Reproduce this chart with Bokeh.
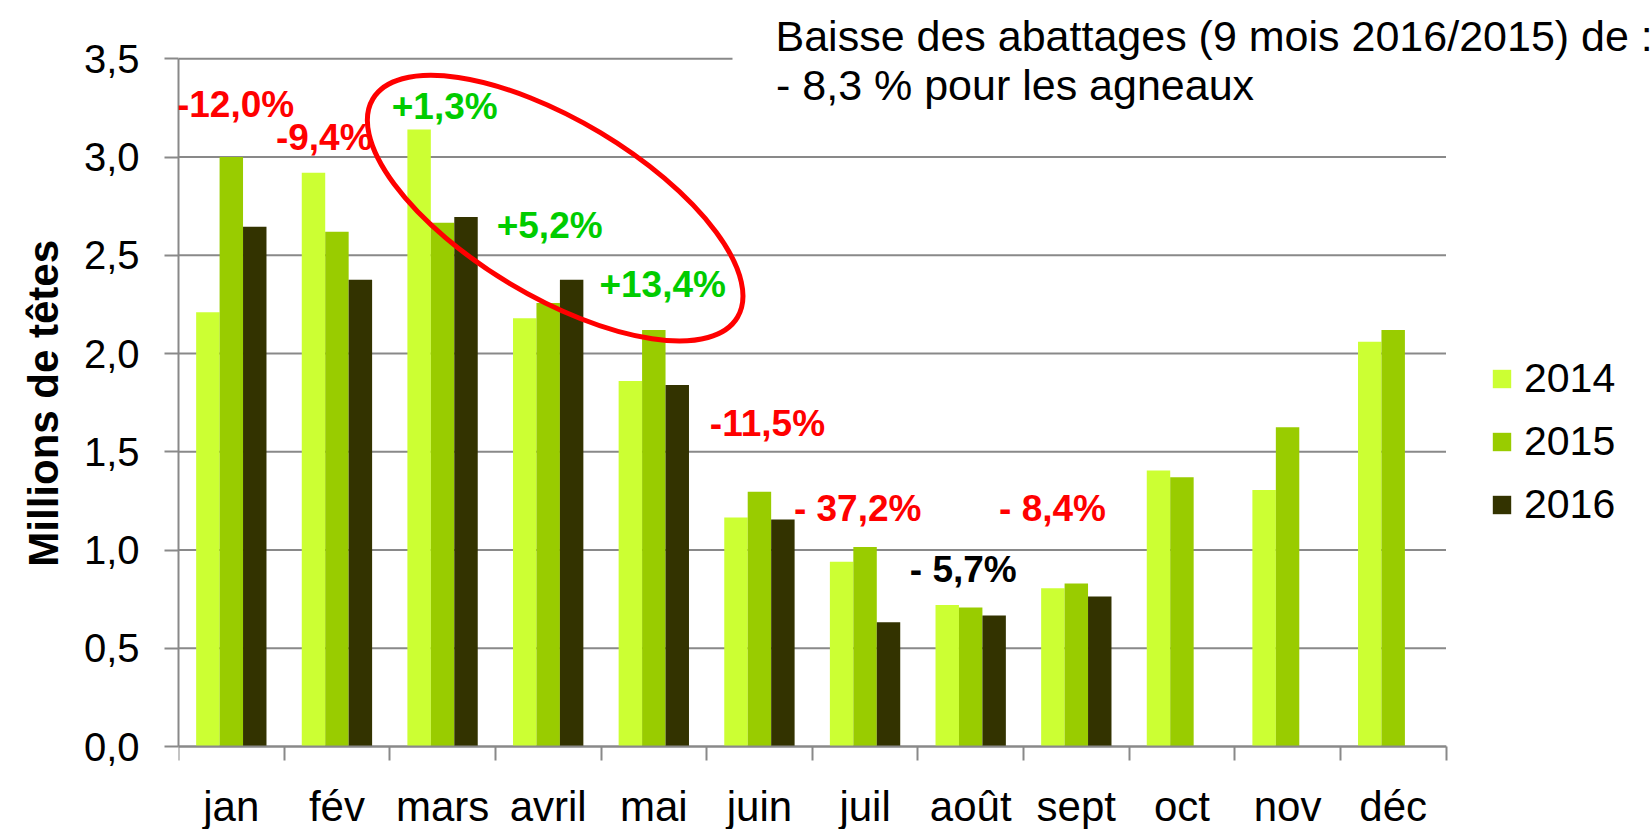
import math
from bokeh.plotting import figure
from bokeh.models import (Range1d, LinearAxis, FixedTicker,
                          ColumnDataSource, Legend, LegendItem, LabelSet, Label)
from bokeh.transform import dodge
from bokeh.core.properties import value
from bokeh.embed import file_html
from bokeh.resources import INLINE

NaN = float("nan")

# ---------------- data ----------------
months = ["jan", "fév", "mars", "avril", "mai", "juin", "juil", "août", "sept", "oct", "nov", "déc"]
years = ["2014", "2015", "2016"]
v2014 = [2.21, 2.92, 3.14, 2.18, 1.86, 1.165, 0.94, 0.72, 0.805, 1.405, 1.305, 2.06]
v2015 = [3.00, 2.62, 2.665, 2.257, 2.12, 1.297, 1.015, 0.708, 0.83, 1.37, 1.625, 2.12]
v2016 = [2.645, 2.375, 2.695, 2.375, 1.84, 1.155, 0.632, 0.667, 0.764, NaN, NaN, NaN]
y_ticks = [0.0, 0.5, 1.0, 1.5, 2.0, 2.5, 3.0, 3.5]
y_tick_labels = ["0,0", "0,5", "1,0", "1,5", "2,0", "2,5", "3,0", "3,5"]
y_title = "Millions de têtes"

pct_texts = ["-12,0%", "-9,4%", "+1,3%", "+5,2%", "+13,4%", "-11,5%", "- 37,2%", "- 5,7%", "- 8,4%"]
pct_months = ["jan", "fév", "mars", "avril", "mai", "juin", "juil", "août", "sept"]
note_lines = ["Baisse des abattages (9 mois 2016/2015) de :", "- 8,3 % pour les agneaux"]

# ---------------- styles / annotation placement ----------------
FONT = "Liberation Sans"
GRID = "#898989"
bar_colors = ["#CCFF33", "#99CC00", "#333300"]
bar_offsets = [-0.222, 0.0, 0.222]
bar_width = 0.222
pct_colors = ["#FF0000", "#FF0000", "#00CC00", "#00CC00", "#00CC00", "#FF0000", "#FF0000", "#000000", "#FF0000"]
pct_dx = [0.04, -0.12, 0.02, 0.014, 0.084, 0.076, -0.07, -0.07, -0.225]   # offset from month centre
pct_y = [3.266, 3.10, 3.258, 2.651, 2.350, 1.646, 1.209, 0.90, 1.209]     # label height (value units)

n = len(months)
y_max = y_ticks[-1]
pos = [i + 0.5 for i in range(n)]          # category centres on the x scale
edges = list(range(n + 1))                 # category boundaries

# the drawing area covers the canvas right of the y axis, so that the
# note and the legend (outside the bar area) can be drawn as annotations
W, H = 1652, 829
LEFT = 178
x_end = n * (W - LEFT) / 1267.5
px_per_unit = 687.7 / y_max
y_start = -(H - 746) / px_per_unit
y_end = y_max + 58.3 / px_per_unit

p = figure(width=W, height=H,
           x_range=Range1d(0, x_end), y_range=Range1d(y_start, y_end),
           x_axis_location=None, title_location=None,
           output_backend="svg", toolbar_location=None,
           min_border_left=LEFT, min_border_right=0, min_border_top=0, min_border_bottom=0)
p.outline_line_color = None
p.background_fill_color = "white"
p.border_fill_color = "white"
p.xgrid.visible = False
p.ygrid.visible = False

# y axis
yt = FixedTicker(ticks=y_ticks)
p.yaxis.ticker = yt
p.yaxis.bounds = (0, y_max)
p.yaxis.major_label_overrides = dict(zip(y_ticks, y_tick_labels))
p.yaxis.major_tick_out = 14
p.yaxis.major_tick_in = 0
p.yaxis.major_tick_line_color = GRID
p.yaxis.major_tick_line_width = 2
p.yaxis.minor_tick_line_color = None
p.yaxis.axis_line_color = GRID
p.yaxis.axis_line_width = 2
p.yaxis.major_label_text_font = FONT
p.yaxis.major_label_text_font_size = "40px"
p.yaxis.major_label_text_color = "black"
p.yaxis.major_label_standoff = 25
# two leading no-break spaces centre the title on the 0-3.5 span rather than the canvas
p.yaxis.axis_label = "\u00a0\u00a0" + y_title
p.yaxis.axis_label_text_font = FONT
p.yaxis.axis_label_text_font_size = "42px"
p.yaxis.axis_label_text_font_style = "bold"
p.yaxis.axis_label_text_color = "black"
p.yaxis.axis_label_standoff = 14

# horizontal grid lines, from the y ticks, spanning the month categories only
gsrc = ColumnDataSource(dict(y=y_ticks, x0=[0] * len(y_ticks), x1=[n] * len(y_ticks)))
p.segment(x0="x0", x1="x1", y0="y", y1="y", source=gsrc, line_color=GRID, line_width=2)

# x axis at value 0: month labels at centres, tick marks between categories
xax = LinearAxis(fixed_location=0, bounds=(0, n),
                 ticker=FixedTicker(ticks=pos, minor_ticks=edges),
                 major_label_overrides=dict(zip(pos, months)),
                 major_tick_line_color=None, major_tick_out=0, major_tick_in=0,
                 minor_tick_out=14, minor_tick_in=0, minor_tick_line_color=GRID,
                 minor_tick_line_width=2, axis_line_color=GRID, axis_line_width=2,
                 major_label_standoff=22, major_label_text_font=FONT,
                 major_label_text_font_size="42px", major_label_text_color="black")
p.add_layout(xax, "below")

# bars
src = ColumnDataSource(dict(month=months, pos=pos, y2014=v2014, y2015=v2015, y2016=v2016))
renderers = []
for yr, off, col in zip(years, bar_offsets, bar_colors):
    r = p.vbar(x=dodge("pos", off), top="y" + yr, width=bar_width,
               source=src, fill_color=col, line_color=None)
    renderers.append(r)

# ellipse highlight around mars-mai
ell_x = pos[months.index("avril")] + 0.066
p.ellipse(x=[ell_x], y=[2.74], width=[425], height=[176], angle=[-0.54],
          width_units="screen", height_units="screen",
          fill_color=None, line_color="#FF0000", line_width=5)

# percentage labels
px = [pos[months.index(m)] + d for m, d in zip(pct_months, pct_dx)]
psrc = ColumnDataSource(dict(x=px, y=pct_y, text=pct_texts, color=pct_colors))
p.add_layout(LabelSet(x="x", y="y", text="text", source=psrc,
                      text_align="center", text_baseline="middle", text_color="color",
                      text_font=value(FONT), text_font_size="37px", text_font_style="bold"))

# note text box: its white fill hides the top grid line, like the original text box
p.add_layout(Label(x=5.245, y=3.614, text=note_lines[0],
                   text_font=FONT, text_font_size="43px", text_baseline="middle",
                   text_color="black", background_fill_color="white", padding=(43, 0, 4, 4)))
p.add_layout(Label(x=5.657, y=3.367, text=note_lines[1],
                   text_font=FONT, text_font_size="43px", text_baseline="middle",
                   text_color="black"))

# legend
legend = Legend(items=[LegendItem(label=yr, renderers=[r]) for yr, r in zip(years, renderers)],
                location=(1312, 301), orientation="vertical",
                glyph_width=23, glyph_height=23, label_standoff=11,
                label_text_font=FONT, label_text_font_size="41px", label_text_color="black",
                spacing=16, padding=0, margin=0,
                border_line_color=None, background_fill_alpha=0)
p.add_layout(legend)

open("out.html", "w").write(file_html(p, INLINE))
